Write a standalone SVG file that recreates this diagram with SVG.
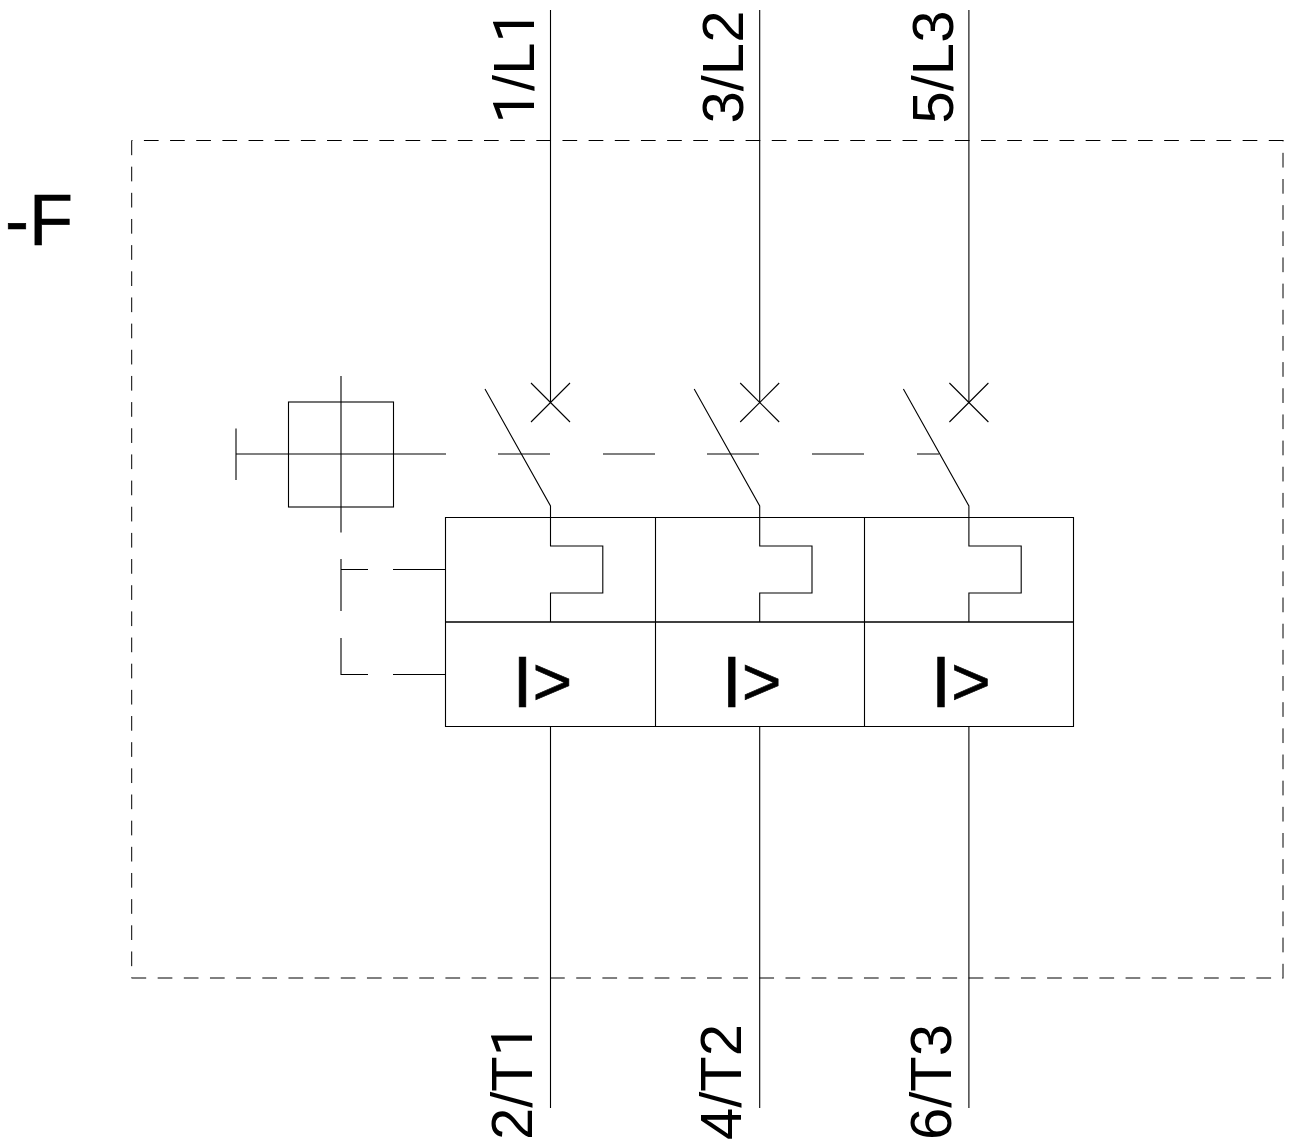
<svg xmlns="http://www.w3.org/2000/svg" width="1292" height="1144" viewBox="0 0 1292 1144">
<style>
.l{fill:none;stroke:#000;stroke-width:1.1}
.m{fill:none;stroke:#000;stroke-width:1.7}
.d{fill:none;stroke:#000;stroke-width:1;stroke-dasharray:14.7 11.46}
text{font-family:"Liberation Sans",Arial,sans-serif;fill:#000}
.one{font-family:Roboto,"Liberation Sans",sans-serif}
.t{font-size:58px}
.b{font-size:72px}
.g{font-size:68px}
.v{stroke:#000;stroke-width:.6}
</style>
<rect width="1292" height="1144" fill="#fff"/>
<g id="enclosure">
<path class="d" d="M131.700 140.500V978"/>
<path class="d" d="M131.500 978H1283"/>
<path class="d" d="M1283 978.500V140.500"/>
<path class="d" d="M1283.500 140.500H131.700"/>
</g>
<g id="designation"><text class="b v" x="5" y="245">-F</text></g>
<g id="connectors">
<path class="l" d="M550.500 10V403M759.700 10V403M968.900 10V403"/>
<path class="l" d="M550.500 726V1108M759.700 726V1108M968.900 726V1108"/>
<path class="l" d="M236 454H446M498 454H550M603 454H655M707 454H759M812 454H864M917 454H939"/>
<path class="l" d="M341 532.500V376"/>
<path class="l" d="M341 559V611M341 638V674.500H368M393 674.500H445.500M341 569.500H368M393 569.500H445.500"/>
</g>
<g id="operator">
<rect class="l" x="288.500" y="402" width="105" height="105"/>
<path class="l" d="M236 428.500V480"/>
</g>
<g id="pole1">
<path class="l" d="M531 383L570 422M570 383L531 422M485 389L550.500 506V546H602.800V593H550.500V622"/>
<path class="l" d="M445.500 517.500V726.500H655.500V517.500Z"/>
<path class="m" d="M445.500 622H655.500"/>
<text class="b v" x="512.500" y="707">I<tspan class="g" dy="-2">&gt;</tspan></text>
</g>
<g id="pole2">
<path class="l" d="M740.200 383L779.200 422M779.200 383L740.200 422M694.200 389L759.700 506V546H812V593H759.700V622"/>
<path class="l" d="M655.500 517.500H864.500V726.500H655.500"/>
<path class="m" d="M655.500 622H864.500"/>
<text class="b v" x="721.700" y="707">I<tspan class="g" dy="-2">&gt;</tspan></text>
</g>
<g id="pole3">
<path class="l" d="M949.400 383L988.400 422M988.400 383L949.400 422M903.400 389L968.900 506V546H1021.200V593H968.900V622"/>
<path class="l" d="M864.500 517.500H1073.500V726.500H864.500"/>
<path class="m" d="M864.500 622H1073.500"/>
<text class="b v" x="930.900" y="707">I<tspan class="g" dy="-2">&gt;</tspan></text>
</g>
<g id="labels">
<text class="t" transform="translate(534 123.500) rotate(-90)"><tspan class="one">1</tspan>/L<tspan class="one">1</tspan></text>
<text class="t" transform="translate(743.300 123.500) rotate(-90)">3/L2</text>
<text class="t" transform="translate(952.500 123.500) rotate(-90)">5/L3</text>
<text class="t" transform="translate(532 1140) rotate(-90)">2/T<tspan class="one">1</tspan></text>
<text class="t" transform="translate(741.300 1140) rotate(-90)">4/T2</text>
<text class="t" transform="translate(950.500 1140) rotate(-90)">6/T3</text>
</g>
</svg>
